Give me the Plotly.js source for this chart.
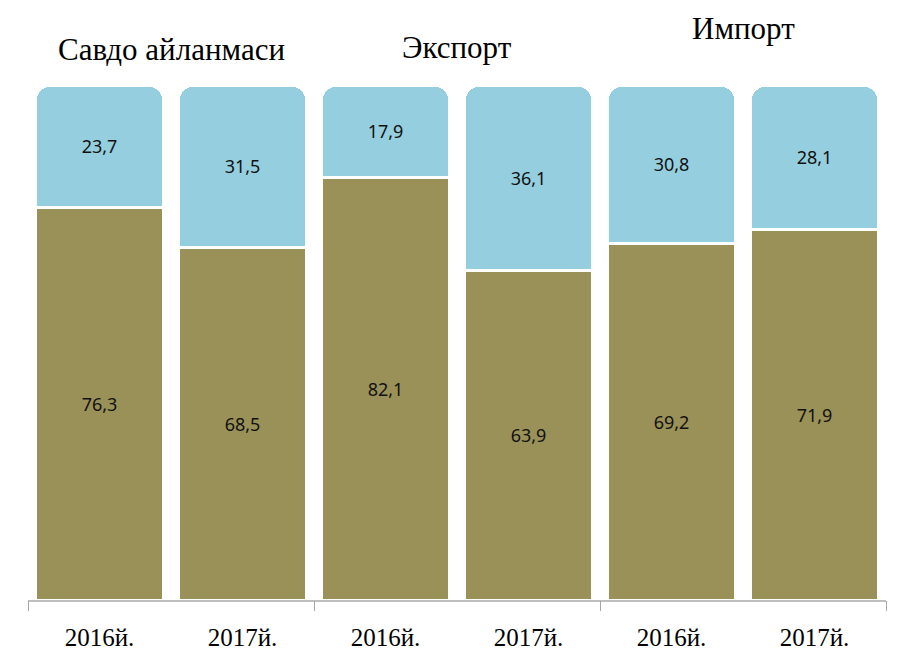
<!DOCTYPE html>
<html>
<head>
<meta charset="utf-8">
<script src="https://cdn.plot.ly/plotly-3.0.1.min.js"></script>
<style>html,body{margin:0;padding:0;background:#fff;}#chart{width:902px;height:658px;}</style>
</head>
<body>
<div id="chart"></div>
<script>
var groups = ['Савдо айланмаси', 'Экспорт', 'Импорт'];
var years = ['2016й.', '2017й.', '2016й.', '2017й.', '2016й.', '2017й.'];
var olive = [76.3, 68.5, 82.1, 63.9, 69.2, 71.9];
var blue = [23.7, 31.5, 17.9, 36.1, 30.8, 28.1];

var xs = years.map(function (_, i) { return i; });
function fmt(v) { return v.toFixed(1).replace('.', ','); }

var labelFont = {family: 'Noto Sans, Open Sans, sans-serif', size: 18, color: '#111'};

var traces = [
  {
    type: 'bar', x: xs, y: olive,
    marker: {color: '#9a9158', line: {color: '#ffffff', width: 3}},
    text: olive.map(fmt), textposition: 'inside', insidetextanchor: 'middle',
    textfont: labelFont, hoverinfo: 'skip', showlegend: false
  },
  {
    type: 'bar', x: xs, y: blue,
    marker: {color: '#95cfdf', line: {color: '#ffffff', width: 3}},
    text: blue.map(fmt), textposition: 'inside', insidetextanchor: 'middle',
    textfont: labelFont, hoverinfo: 'skip', showlegend: false
  },
  {
    type: 'scatter', x: [-0.5, 5.5], y: [0, 0], xaxis: 'x2', mode: 'lines',
    line: {color: 'rgba(0,0,0,0)'}, hoverinfo: 'skip', showlegend: false
  }
];

var groupX = [0.5, 2.5, 4.5];
var groupY = [1.068, 1.072, 1.11];
var annotations = groups.map(function (g, i) {
  return {
    text: g, x: groupX[i], y: groupY[i], xref: 'x', yref: 'paper',
    showarrow: false, xanchor: 'center', yanchor: 'middle',
    font: {family: 'Liberation Serif, Times New Roman, serif', size: 31, color: '#000'}
  };
});

var layout = {
  width: 902, height: 658,
  margin: {l: 28, r: 16, t: 85, b: 58},
  paper_bgcolor: '#ffffff', plot_bgcolor: '#ffffff',
  barmode: 'stack', bargap: 0.1, barcornerradius: 16,
  xaxis: {
    range: [-0.5, 5.5], tickvals: xs, ticktext: years,
    tickfont: {family: 'Liberation Serif, Times New Roman, serif', size: 25, color: '#000'},
    showgrid: false, zeroline: false, showline: true, linecolor: '#bfbfbf', linewidth: 2,
    ticks: '', ticklabelstandoff: 14, fixedrange: true
  },
  xaxis2: {
    overlaying: 'x', matches: 'x', range: [-0.5, 5.5],
    tickvals: [-0.5, 1.5, 3.5, 5.5], ticks: 'outside', ticklen: 10, tickcolor: '#a6a6a6',
    showticklabels: false, showgrid: false, zeroline: false, side: 'bottom', anchor: 'y'
  },
  yaxis: {range: [0, 100], visible: false, fixedrange: true},
  annotations: annotations
};

Plotly.newPlot('chart', traces, layout, {displayModeBar: false, staticPlot: true});
</script>
</body>
</html>
